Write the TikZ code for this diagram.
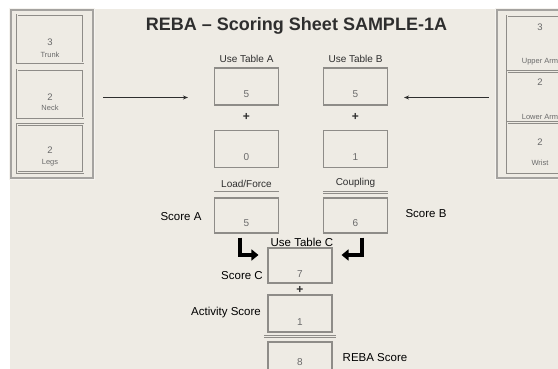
\documentclass[tikz,border=0pt]{standalone}
\usepackage{fontspec}
\setmainfont{Liberation Sans}
\usetikzlibrary{arrows.meta}
\definecolor{sheetbg}{HTML}{EEEBE4}
\definecolor{boxgray}{HTML}{8E8C88}
\definecolor{valgray}{HTML}{6A6A6A}
\definecolor{inkdark}{HTML}{2E2E2E}
\tikzset{
  figtitle/.style={inkdark, font=\fontsize{18}{20}\selectfont\bfseries},
  panel/.style={draw=boxgray!80, line width=2.6pt, minimum width=82pt, minimum height=168pt},
  paneledge/.style={draw=sheetbg!60!white, line width=0.8pt},
  partbox/.style={draw=boxgray, line width=0.8pt, double=sheetbg, double distance=1pt, minimum width=66pt},
  partval/.style={valgray, font=\fontsize{9.5}{10}\selectfont},
  partname/.style={valgray, font=\fontsize{7.5}{8}\selectfont},
  scorebox/.style={draw=boxgray, line width=1.1pt, minimum width=64pt, minimum height=37pt},
  scoreval/.style={valgray, font=\fontsize{10}{11}\selectfont},
  headtxt/.style={inkdark, font=\fontsize{10}{11}\selectfont},
  sidetxt/.style={black, font=\fontsize{11.5}{12}\selectfont},
  plus/.style={inkdark, font=\fontsize{12}{12}\selectfont\bfseries},
  feed/.style={inkdark, line width=1.2pt, -{Stealth[length=5pt,width=4pt]}},
  bigarrow/.style={black, line width=4.5pt, -{Triangle[length=7pt,width=11pt]}},
  dblrule/.style={draw=boxgray, line width=0.8pt, double=sheetbg, double distance=1.4pt},
}
\begin{document}
\begin{tikzpicture}[x=1pt,y=-1pt]
\clip (0,0) rectangle (558,369);
\fill[white] (0,0) rectangle (558,369);
\fill[sheetbg] (10,9) rectangle (558,369);
\node[figtitle] (title) at (296.5,26) {REBA -- Scoring Sheet SAMPLE-1A};

% left panel: trunk, neck, legs
\node[panel] (lpanel) at (52,94) {};
\draw[paneledge] (lpanel.south west) rectangle (lpanel.north east);
\node[partbox, minimum height=48pt] (trunk) at (50,39) {};
\node[partbox, minimum height=48pt] (neck) at (50,94) {};
\node[partbox, minimum height=48pt] (legs) at (50,148.5) {};
\node[partval] (trunkv) at (50,42) {3};
\node[partname] (trunkn) at (50,55) {Trunk};
\node[partval] (neckv) at (50,97) {2};
\node[partname] (neckn) at (50,108) {Neck};
\node[partval] (legsv) at (50,150) {2};
\node[partname] (legsn) at (50,163) {Legs};

% right panel: upper arm, lower arm, wrist
\node[panel, minimum width=104pt] (rpanel) at (549,94) {};
\draw[paneledge] (rpanel.south west) rectangle (rpanel.north east);
\node[partbox, minimum height=54pt] (uarm) at (540,43) {};
\node[partbox, minimum height=49pt] (larm) at (540,96.5) {};
\node[partbox, minimum height=50pt] (wrist) at (540,148) {};
\node[partval] (uarmv) at (540,27) {3};
\node[partname] (uarmn) at (540,62) {Upper Arm};
\node[partval] (larmv) at (540,82) {2};
\node[partname] (larmn) at (540,117) {Lower Arm};
\node[partval] (wristv) at (540,142) {2};
\node[partname] (wristn) at (540,163) {Wrist};

% table A / table B column
\node[headtxt] (usea) at (246.5,59) {Use Table A};
\node[headtxt] (useb) at (355.5,59) {Use Table B};
\node[scorebox] (a1) at (246.5,86.5) {};
\node[scorebox] (b1) at (355.5,86.5) {};
\node[scoreval] (a1v) at (246.5,94) {5};
\node[scoreval] (b1v) at (355.5,94) {5};
\node[plus] (plusa) at (246.5,117) {+};
\node[plus] (plusb) at (355.5,117) {+};
\node[scorebox] (a2) at (246.5,149) {};
\node[scorebox] (b2) at (355.5,149) {};
\node[scoreval] (a2v) at (246.5,157) {0};
\node[scoreval] (b2v) at (355.5,157) {1};
\node[headtxt] (load) at (246.5,184) {Load/Force};
\node[headtxt] (coup) at (355.5,183) {Coupling};
\node[scorebox, minimum height=35pt] (scorea) at (246.5,215.5) {};
\node[scorebox, minimum height=35pt] (scoreb) at (355.5,215.5) {};
\node[scoreval] (scoreav) at (246.5,223) {5};
\node[scoreval] (scorebv) at (355.5,223) {6};
\node[sidetxt] (scoreal) at (181,217) {Score A};
\node[sidetxt] (scorebl) at (426,214) {Score B};
\draw[dblrule] ([yshift=4.5pt]scorea.north west) -- ([yshift=4.5pt]scorea.north east);
\draw[dblrule] ([yshift=5pt]scoreb.north west) -- ([yshift=5pt]scoreb.north east);

% table C and final score
\node[sidetxt] (usec) at (302,242) {Use Table C};
\node[scorebox, minimum height=35pt] (tablec) at (300,265.5) {};
\node[scoreval] (tablecv) at (300,274) {7};
\node[sidetxt] (scorecl) at (242,276) {Score C};
\node[plus] (plusc) at (300,290) {+};
\node[scorebox] (act) at (300,313.5) {};
\node[scoreval] (actv) at (300,322) {1};
\node[sidetxt] (actl) at (226,313) {Activity Score};
\draw[dblrule] ([xshift=-3pt,yshift=-4pt]act.south west) -- ([xshift=3pt,yshift=-4pt]act.south east);
\node[scorebox, minimum height=38pt] (reba) at (300,361) {};
\node[scoreval] (rebav) at (300,362.5) {8};
\node[sidetxt] (rebal) at (375,358) {REBA Score};

% connectors
\draw[feed] ([xshift=9pt,yshift=-3.5pt]lpanel.east) -- ([xshift=-26pt,yshift=-11pt]a1.west);
\draw[feed] ([xshift=-7pt,yshift=-3.5pt]rpanel.west) -- ([xshift=16pt,yshift=-11pt]b1.east);
\draw[bigarrow] ([xshift=-6.5pt,yshift=-4pt]scorea.south) |- ([xshift=-9pt,yshift=10.5pt]tablec.west);
\draw[bigarrow] ([xshift=6.5pt,yshift=-4pt]scoreb.south) |- ([xshift=9pt,yshift=10.5pt]tablec.east);
\end{tikzpicture}
\end{document}
